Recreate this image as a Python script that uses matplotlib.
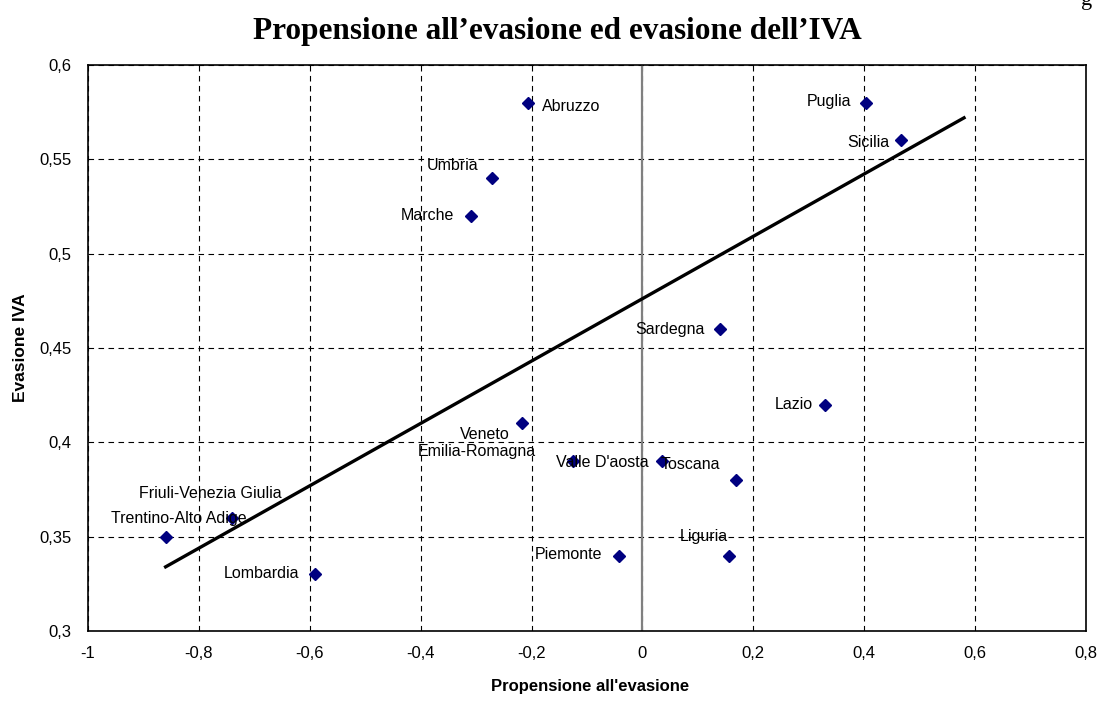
import matplotlib
matplotlib.use('Agg')
from matplotlib import pyplot as plt
from matplotlib.ticker import FixedLocator, FuncFormatter

# data
regions = ['Abruzzo', 'Umbria', 'Marche', 'Puglia', 'Sicilia', 'Sardegna',
           'Lazio', 'Veneto', 'Emilia-Romagna', "Valle D'aosta", 'Toscana',
           'Piemonte', 'Liguria', 'Friuli-Venezia Giulia',
           'Trentino-Alto Adige', 'Lombardia']
propensione = [-0.207, -0.272, -0.310, 0.404, 0.467, 0.139,
               0.330, -0.218, -0.126, 0.036, 0.169,
               -0.043, 0.157, -0.740,
               -0.860, -0.590]
evasione_iva = [0.58, 0.54, 0.52, 0.58, 0.56, 0.46,
                0.42, 0.41, 0.39, 0.39, 0.38,
                0.34, 0.34, 0.36,
                0.35, 0.33]

# trend line end points
trend_x = [-0.86, 0.58]
trend_y = [0.334, 0.572]

x_ticks = [-1, -0.8, -0.6, -0.4, -0.2, 0, 0.2, 0.4, 0.6, 0.8]
y_ticks = [0.3, 0.35, 0.4, 0.45, 0.5, 0.55, 0.6]

# label placement (pixel offsets from the point, alignment)
label_pos = {
    'Abruzzo': (14, -4, 'left'),
    'Umbria': (-13, 13, 'right'),
    'Marche': (-16, 0, 'right'),
    'Puglia': (-15, 1, 'right'),
    'Sicilia': (-12, -2, 'right'),
    'Sardegna': (-15, 0, 'right'),
    'Lazio': (-13, 0, 'right'),
    'Veneto': (-12, -11, 'right'),
    'Emilia-Romagna': (-37, 10, 'right'),
    "Valle D'aosta": (-14, -1, 'right'),
    'Toscana': (-16, 16, 'right'),
    'Piemonte': (-16, 1, 'right'),
    'Liguria': (-2, 19, 'right'),
    'Friuli-Venezia Giulia': (49, 24, 'right'),
    'Trentino-Alto Adige': (81, 18, 'right'),
    'Lombardia': (-16, 1, 'right'),
}


def comma(v, _pos):
    s = f'{v:.2f}'.rstrip('0').rstrip('.')
    if s == '-0':
        s = '0'
    return s.replace('.', ',')


def plot_chart():
    plt.rcParams['font.family'] = ['Liberation Sans', 'DejaVu Sans']
    fig = plt.figure(figsize=(11.03, 7.02), dpi=100)
    ax = fig.add_axes([88 / 1103, 1 - 631 / 702, 998 / 1103, 566 / 702])

    ax.set_xlim(-1, 0.8)
    ax.set_ylim(0.3, 0.6)
    ax.xaxis.set_major_locator(FixedLocator(x_ticks))
    ax.yaxis.set_major_locator(FixedLocator(y_ticks))
    ax.xaxis.set_major_formatter(FuncFormatter(comma))
    ax.yaxis.set_major_formatter(FuncFormatter(comma))
    ax.tick_params(length=0, labelsize=12)
    ax.tick_params(axis='x', pad=11)
    ax.tick_params(axis='y', pad=12)

    ax.grid(True, color='black', linestyle=(0, (5, 4)), linewidth=0.8)
    ax.set_axisbelow(True)
    for sp in ax.spines.values():
        sp.set_linewidth(1.2)
        sp.set_color('black')

    ax.axvline(0, color='#808080', linewidth=1.6, zorder=1.5)
    ax.plot(trend_x, trend_y, color='black', linewidth=2.4, zorder=2)
    ax.plot(propensione, evasione_iva, linestyle='none', marker='D',
            markersize=6.5, color='#000080', zorder=3)

    for name, x, y in zip(regions, propensione, evasione_iva):
        dx, dy, ha = label_pos[name]
        ax.annotate(name, (x, y), xytext=(dx, dy), textcoords='offset pixels',
                    ha=ha, va='center', fontsize=11.5, zorder=4)

    ax.set_xlabel("Propensione all'evasione", fontsize=12, fontweight='bold')
    ax.xaxis.set_label_coords(0.503, -0.085)
    ax.set_ylabel('Evasione IVA', fontsize=12.5, fontweight='bold')
    ax.yaxis.set_label_coords(-0.060, 0.5)

    fig.text(0.505, 1 - 32 / 702, 'Propensione all\u2019evasione ed evasione dell\u2019IVA',
             ha='center', va='center', fontsize=22.5, fontweight='bold',
             family='Liberation Serif')
    fig.text(0.985, 1.0, 'g', ha='center', va='center', fontsize=16,
             family='Liberation Serif')

    fig.savefig('out.png', dpi=100)


if __name__ == '__main__':
    plot_chart()
